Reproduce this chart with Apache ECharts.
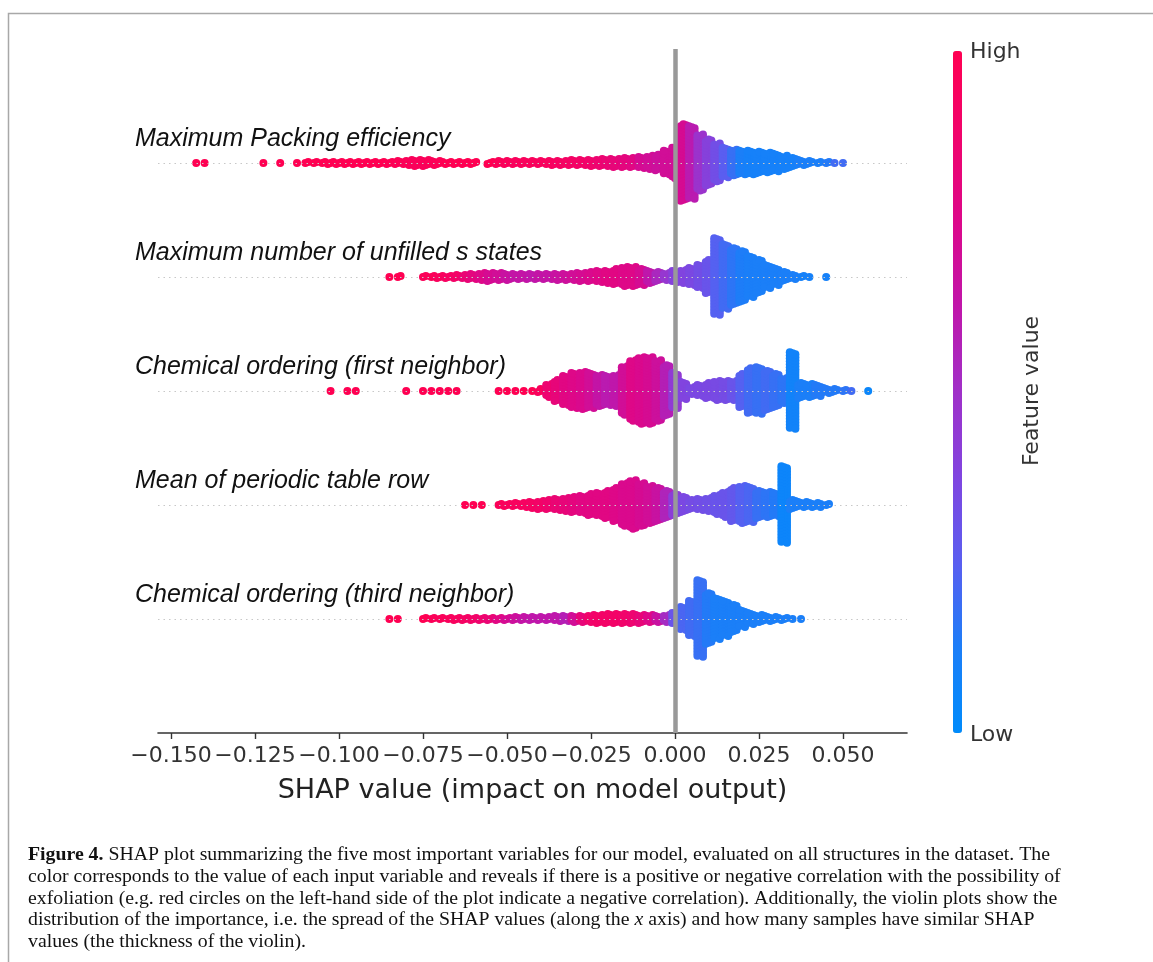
<!DOCTYPE html>
<html><head><meta charset="utf-8">
<script src="https://cdn.jsdelivr.net/npm/echarts@6/dist/echarts.min.js"></script>
<style>html,body{margin:0;padding:0;background:#fff}#c{width:1153px;height:962px}</style>
</head><body><div id="c"></div>
<script>
// ---------------- DATA ----------------
const features = [
  'Maximum Packing efficiency',
  'Maximum number of unfilled s states',
  'Chemical ordering (first neighbor)',
  'Mean of periodic table row',
  'Chemical ordering (third neighbor)'
];
// histogram bins of SHAP values (bin width), number of samples per bin and mean feature value (0=low,1=high)
const binWidth = 0.0025;

const row1Start = -0.1425;
const row1Counts = [1,1,0,0,0,0,0,0,1,0,1,0,1,
  2,2,2,3,3,3,3,3,3,3,3,4,
  5,7,7,6,4,3,3,3,3,0,3,4,4,4,4,4,4,5,5,5,
  6,6,7,8,8,9,10,10,12,14,16,24,
  32,76,72,56,46,38,30,26,24,24,22,20,18,14,10,6,4,2,2,1,1];
const row1Values = [1,1,1,1,1,1,1,1,1,1,1,1,1,
  1,1,1,1,1,1,1,1,1,1,0.99,0.98,
  0.97,0.96,0.96,0.97,0.98,1,1,1,1,1,1,0.97,0.96,0.95,0.95,0.95,0.94,0.94,0.93,0.92,
  0.91,0.9,0.88,0.86,0.84,0.82,0.8,0.78,0.72,0.7,0.68,0.7,
  0.7,0.72,0.6,0.48,0.4,0.33,0.25,0.18,0.12,0.1,0.1,0.1,0.1,0.1,0.1,0.12,0.12,0.12,0.14,0.2,0.2];

const row2Start = -0.085;
const row2Counts = [1,2,0,0,2,2,3,3,4,5,6,8,9,8,7,6,6,6,6,6,7,7,8,9,10,12,13,16,20,20,17,13,10,8,
  12,14,18,24,34,78,66,58,52,42,34,24,18,10,5,2,1,0,1];
const row2Values = [1,1,1,1,0.97,0.97,0.95,0.93,0.9,0.84,0.8,0.76,0.72,0.7,0.66,0.64,0.64,0.62,0.64,0.64,0.66,0.68,0.7,0.72,0.74,0.76,0.78,0.78,0.76,0.76,0.72,0.62,0.54,0.46,
  0.4,0.38,0.36,0.33,0.3,0.24,0.2,0.16,0.13,0.12,0.12,0.12,0.12,0.12,0.12,0.1,0.1,0.1,0.1];

const row3Start = -0.1025;
const row3Counts = [1,0,1,1,0,0,0,0,0,1,0,1,1,1,1,1,0,0,0,0,1,1,1,1,1,
  4,14,22,30,36,38,36,32,30,32,50,62,68,68,62,52,
  36,18,8,12,16,20,20,20,34,46,48,40,34,26,78,16,14,12,6,4,2,1,0,1];
const row3Values = [1,1,1,1,1,1,1,1,1,1,1,1,1,1,1,1,1,1,1,1,1,1,1,1,1,
  0.95,0.86,0.82,0.78,0.76,0.74,0.7,0.64,0.6,0.62,0.7,0.76,0.74,0.72,0.68,0.58,
  0.44,0.38,0.36,0.36,0.36,0.35,0.34,0.3,0.24,0.2,0.18,0.2,0.18,0.16,0.08,0.12,0.12,0.14,0.14,0.14,0.16,0.2,0.1,0.05];

const row4Start = -0.0625;
const row4Counts = [1,1,1,0,2,3,4,5,7,9,10,12,14,16,18,22,24,28,34,44,50,44,38,34,28,
  22,16,10,12,14,20,26,34,38,36,28,26,24,78,10,6,6,5,2];
const row4Values = [1,1,1,1,0.97,0.95,0.94,0.93,0.92,0.9,0.87,0.84,0.82,0.8,0.78,0.78,0.78,0.78,0.76,0.74,0.74,0.72,0.7,0.66,0.56,
  0.42,0.36,0.34,0.33,0.32,0.3,0.3,0.28,0.24,0.22,0.18,0.16,0.14,0.06,0.12,0.12,0.12,0.12,0.12];

const row5Start = -0.085;
const row5Counts = [1,1,0,0,2,2,2,2,3,3,3,3,3,3,3,4,4,4,4,4,6,6,7,7,8,9,10,10,10,10,9,8,7,8,
  12,24,36,78,52,42,36,28,18,12,8,6,4,3,1,1];
const row5Values = [1,1,1,1,1,0.97,0.96,0.95,0.94,0.92,0.9,0.87,0.84,0.78,0.72,0.68,0.64,0.62,0.62,0.62,0.62,0.58,0.7,0.82,0.88,0.9,0.9,0.9,0.88,0.86,0.82,0.76,0.66,0.52,
  0.3,0.22,0.2,0.18,0.14,0.12,0.12,0.12,0.12,0.12,0.12,0.12,0.12,0.12,0.12,0.12];

const xTickValues = [-0.15,-0.125,-0.1,-0.075,-0.05,-0.025,0,0.025,0.05];
const xTickLabels = ['\u22120.150','\u22120.125','\u22120.100','\u22120.075','\u22120.050','\u22120.025','0.000','0.025','0.050'];
const xAxisTitle = 'SHAP value (impact on model output)';
const colorbarTitle = 'Feature value';
const colorbarHigh = 'High';
const colorbarLow = 'Low';
const captionLines = [
  '{b|Figure 4.} SHAP plot summarizing the five most important variables for our model, evaluated on all structures in the dataset. The',
  'color corresponds to the value of each input variable and reveals if there is a positive or negative correlation with the possibility of',
  'exfoliation (e.g. red circles on the left-hand side of the plot indicate a negative correlation). Additionally, the violin plots show the',
  'distribution of the importance, i.e. the spread of the SHAP values (along the {i|x} axis) and how many samples have similar SHAP',
  'values (the thickness of the violin).'
];

// ---------------- LAYOUT ----------------
const rows = [
  [row1Start, row1Counts, row1Values],
  [row2Start, row2Counts, row2Values],
  [row3Start, row3Counts, row3Values],
  [row4Start, row4Counts, row4Values],
  [row5Start, row5Counts, row5Values]
];
const xMin = -0.15387, xMax = 0.06905;
const rowHalf = 0.34;
const points = [];
rows.forEach(([start, counts, vals], r) => {
  const rowPos = features.length - 1 - r;
  const maxLayer = Math.max(...counts.map(c => Math.ceil((c - 1) / 2)), 1);
  const step = rowHalf / maxLayer;
  counts.forEach((c, j) => {
    const x = start + j * binWidth;
    for (let i = 0; i < c; i++) {
      const layer = Math.ceil(i / 2) * (i % 2 ? 1 : -1);
      const m = i % 3;
      const dx = (m === 0 ? 0 : (m === 1 ? 1 : -1)) * binWidth / 3;
      points.push([x + dx, rowPos + layer * step, vals[j]]);
    }
  });
});

const colorStops = ['#008bfb', '#1c7ef8', '#5a5ef0', '#8045e0', '#a030c8', '#c016aa', '#dc088a', '#f0046c', '#ff0052'];

const chart = echarts.init(document.getElementById('c'), null, {renderer: 'canvas'});
const tickFmt = v => {
  const i = xTickValues.findIndex(t => Math.abs(t - v) < 1e-9);
  return i >= 0 ? xTickLabels[i] : '';
};
chart.setOption({
  animation: false,
  backgroundColor: '#fff',
  grid: {left: 158, right: 246, top: 49, bottom: 229},
  xAxis: {
    type: 'value', min: xMin, max: xMax,
    name: xAxisTitle, nameLocation: 'middle', nameGap: 44,
    nameTextStyle: {fontFamily: 'DejaVu Sans', fontSize: 27, color: '#222'},
    axisLine: {show: true, onZero: false, lineStyle: {color: '#333', width: 1.6}},
    axisTick: {show: true, length: 6, lineStyle: {color: '#333', width: 1.4}, customValues: xTickValues},
    axisLabel: {customValues: xTickValues, formatter: tickFmt, margin: 12,
      fontFamily: 'DejaVu Sans', fontSize: 22, color: '#333'},
    splitLine: {show: false}
  },
  yAxis: {
    type: 'value', min: -1, max: 5, interval: 1,
    axisLine: {show: false}, axisTick: {show: false}, splitLine: {show: false},
    axisLabel: {
      formatter: v => {
        const idx = features.length - 1 - Math.round(v);
        return (idx >= 0 && idx < features.length) ? features[idx] : '';
      },
      align: 'left', margin: 23, verticalAlign: 'bottom', padding: [0, 0, 11, 0],
      fontFamily: 'Liberation Sans', fontStyle: 'italic', fontSize: 25, color: '#111'
    }
  },
  visualMap: {
    type: 'continuous', min: 0, max: 1, dimension: 2, seriesIndex: 0,
    inRange: {color: colorStops},
    show: true, calculable: false, left: 953, top: 51, padding: 0,
    itemWidth: 9, itemHeight: 682, text: null, hoverLink: false
  },
  series: [
    {
      type: 'scatter', data: points, symbolSize: 8, z: 3,
      progressive: 0, large: false,
      itemStyle: {opacity: 1, borderWidth: 0},
      silent: true
    },
    {
      type: 'scatter', data: [], z: 1, silent: true,
      markLine: {
        silent: true, symbol: 'none', z: 1,
        label: {show: false},
        lineStyle: {type: [1.5, 4], color: '#c8c8c8', width: 1.2},
        data: features.map((f, i) => ({yAxis: i}))
      }
    },
    {
      type: 'scatter', data: [], z: 5, silent: true,
      markLine: {
        silent: true, symbol: 'none', z: 5,
        label: {show: false},
        lineStyle: {type: 'solid', color: '#999', width: 4.5},
        data: [{xAxis: 0}]
      }
    }
  ],
  graphic: [
    {type: 'rect', silent: true, z: 0, shape: {x: 8.5, y: 13.5, width: 1300, height: 1100},
      style: {fill: 'none', stroke: '#a8a8a8', lineWidth: 1.5}},
    {type: 'text', x: 970, y: 52, silent: true,
      style: {text: colorbarHigh, font: '22px "DejaVu Sans"', fill: '#333', textAlign: 'left', textVerticalAlign: 'middle'}},
    {type: 'text', x: 970, y: 735, silent: true,
      style: {text: colorbarLow, font: '22px "DejaVu Sans"', fill: '#333', textAlign: 'left', textVerticalAlign: 'middle'}},
    {type: 'text', x: 1032, y: 391, rotation: Math.PI / 2, silent: true,
      style: {text: colorbarTitle, font: '22px "DejaVu Sans"', fill: '#333', textAlign: 'center', textVerticalAlign: 'middle'}},
    ...captionLines.map((t, i) => ({
      type: 'text', x: 28, y: 855 + i * 21.7, silent: true,
      style: {
        text: t, font: '19.8px "Liberation Serif"', fill: '#111', textAlign: 'left', textVerticalAlign: 'middle',
        rich: {
          b: {fontFamily: 'Liberation Serif', fontWeight: 'bold', fontSize: 19.8, fill: '#111'},
          i: {fontFamily: 'Liberation Serif', fontStyle: 'italic', fontSize: 19.8, fill: '#111'}
        }
      }
    }))
  ]
});
</script>
</body></html>
